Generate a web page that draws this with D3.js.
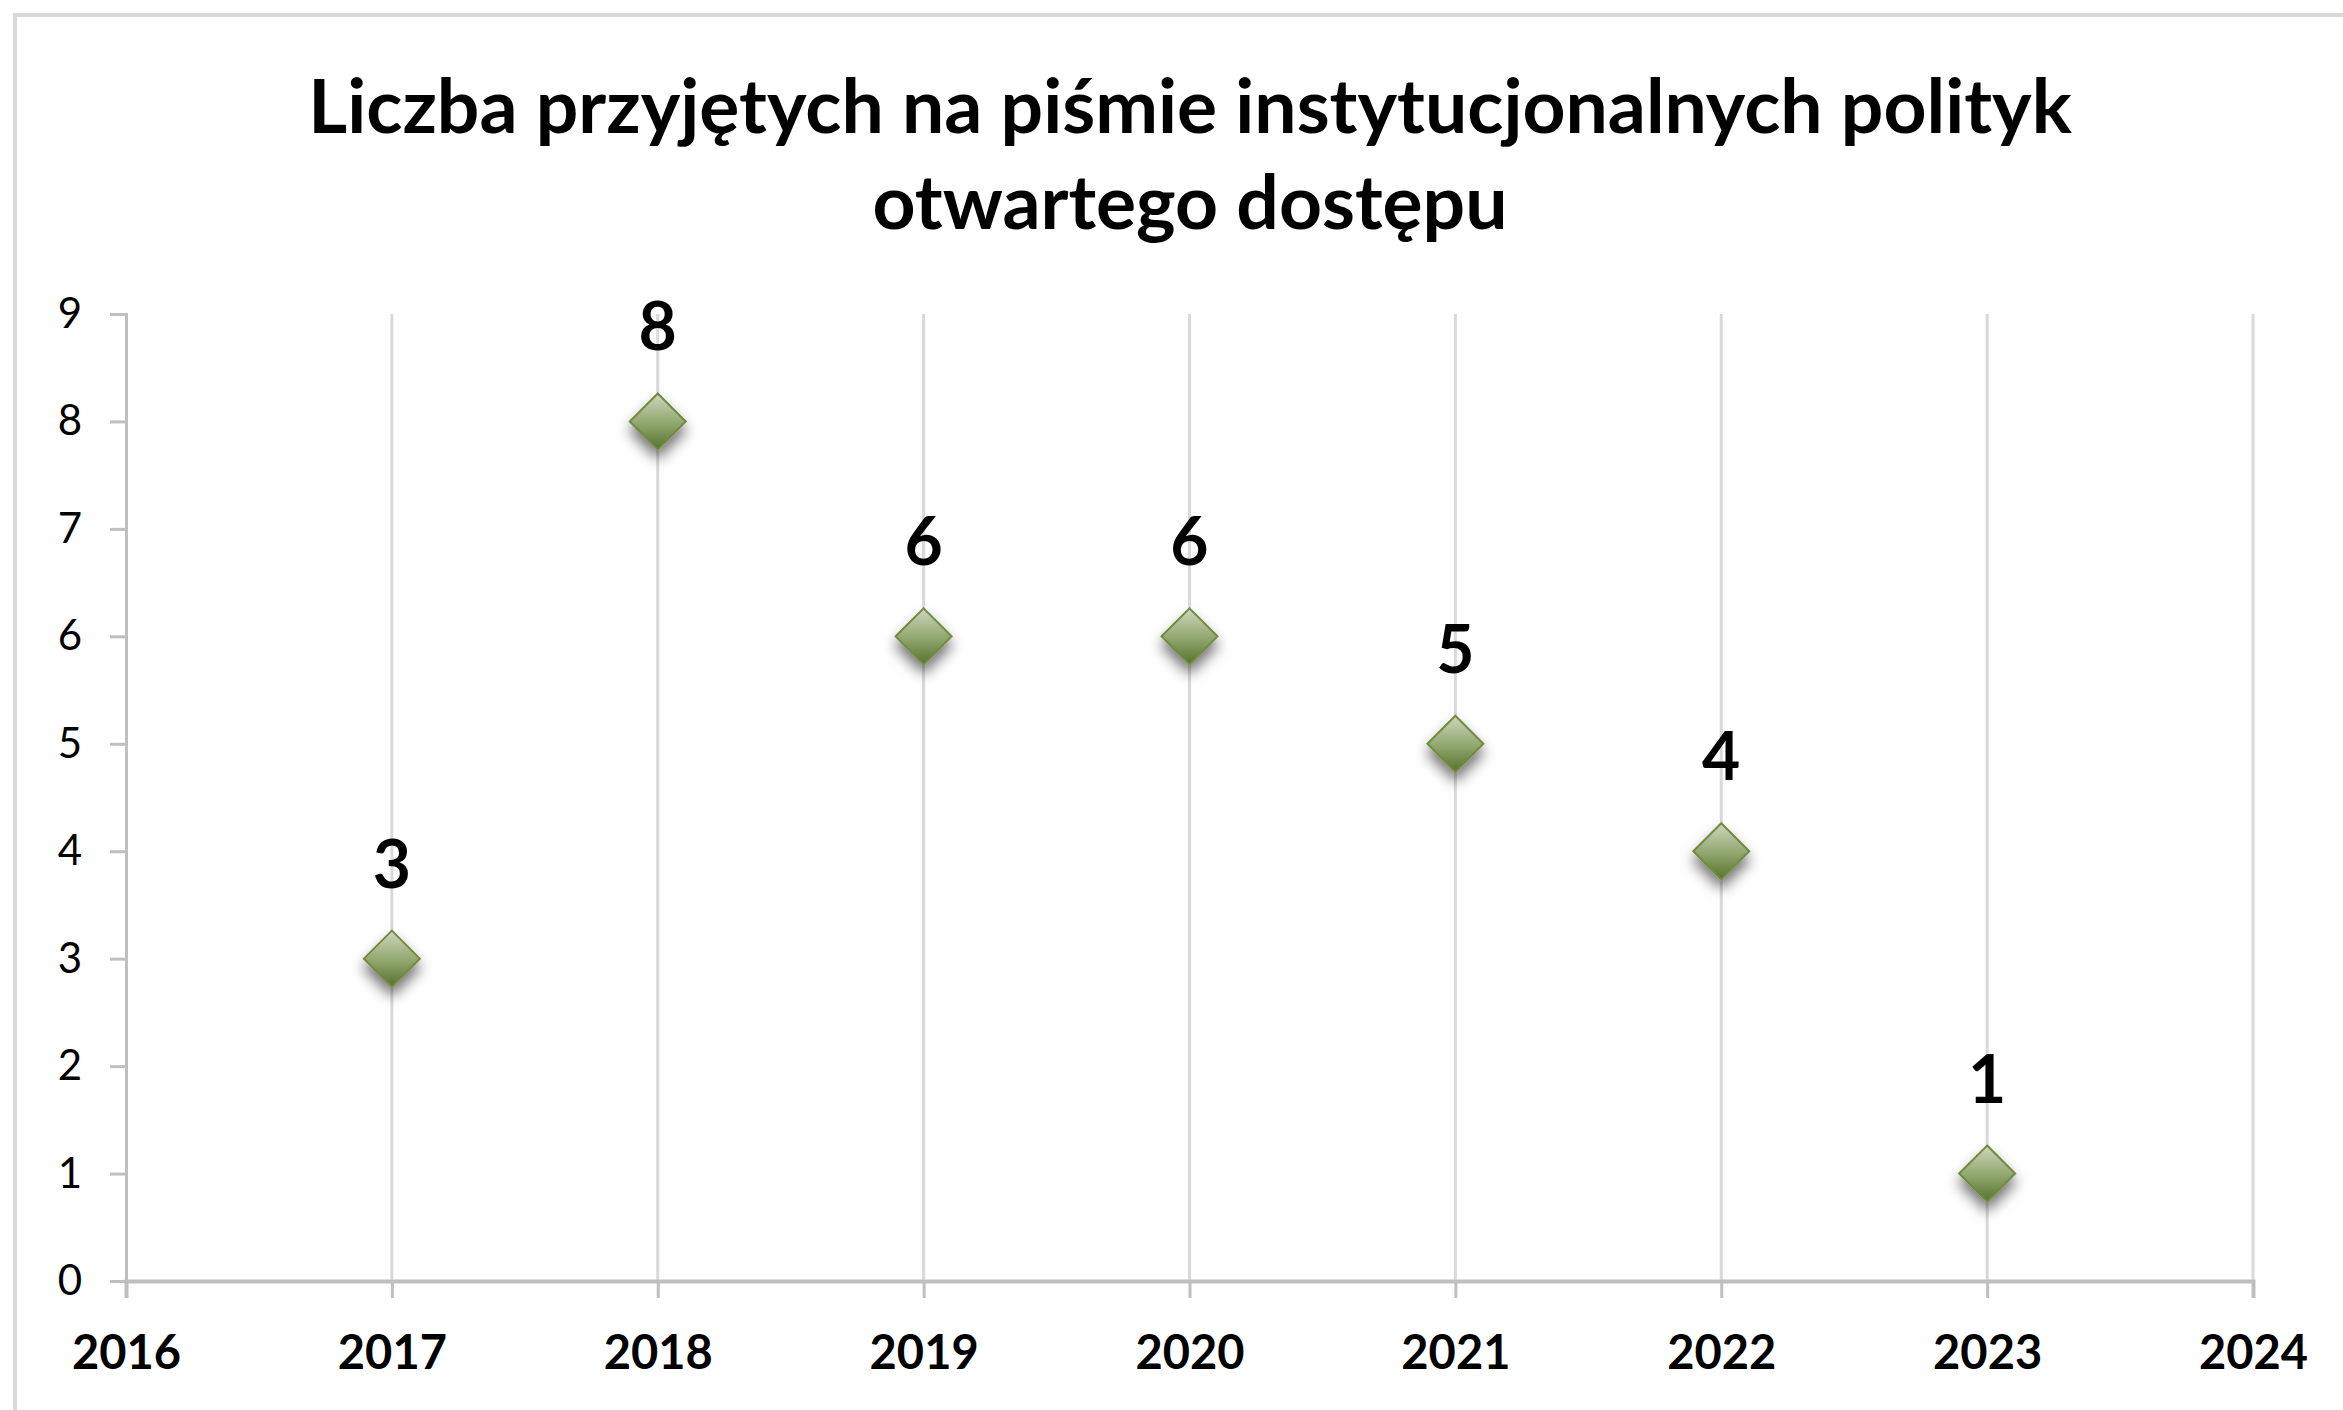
<!DOCTYPE html>
<html>
<head>
<meta charset="utf-8">
<script src="https://cdn.jsdelivr.net/npm/d3@7"></script>
<style>
  body { margin: 0; background: #fff; }
  text { font-family: Lato, "Open Sans", sans-serif; }
</style>
</head>
<body>
<div id="chart"></div>
<script>
// data
let years = [2017, 2018, 2019, 2020, 2021, 2022, 2023];
let counts = [3, 8, 6, 6, 5, 4, 1];
let xTicks = [2016, 2017, 2018, 2019, 2020, 2021, 2022, 2023, 2024];
let yTicks = [0, 1, 2, 3, 4, 5, 6, 7, 8, 9];
let titleLines = [
  "Liczba przyjętych na piśmie instytucjonalnych polityk",
  "otwartego dostępu",
];

let width = 2343,
  height = 1410;

let svg = d3
  .select("#chart")
  .append("svg")
  .attr("width", width)
  .attr("height", height);

let defs = svg.append("defs");

let grad = defs
  .append("linearGradient")
  .attr("id", "markerFill")
  .attr("x1", 0)
  .attr("y1", 0)
  .attr("x2", 0)
  .attr("y2", 1);
grad.append("stop").attr("offset", "0%").attr("stop-color", "#cdd7bd");
grad.append("stop").attr("offset", "55%").attr("stop-color", "#8fa56c");
grad.append("stop").attr("offset", "100%").attr("stop-color", "#56722e");

let shadow = defs.append("filter").attr("id", "shadow")
  .attr("x", "-60%").attr("y", "-60%").attr("width", "220%").attr("height", "220%");
shadow
  .append("feDropShadow")
  .attr("dx", 0)
  .attr("dy", 9)
  .attr("stdDeviation", 7)
  .attr("flood-color", "#000")
  .attr("flood-opacity", 0.55);

// outer frame (top and left edges visible)
svg.append("line")
  .attr("x1", 13).attr("y1", 15).attr("x2", width).attr("y2", 15)
  .attr("stroke", "#d9d9d9").attr("stroke-width", 4);
svg.append("line")
  .attr("x1", 15).attr("y1", 13).attr("x2", 15).attr("y2", height)
  .attr("stroke", "#d9d9d9").attr("stroke-width", 4);

// title
svg
  .selectAll(".title")
  .data(titleLines)
  .enter()
  .append("text")
  .attr("class", "title")
  .attr("x", 1190)
  .attr("y", (d, i) => 133 + i * 96)
  .attr("text-anchor", "middle")
  .attr("font-size", 75)
  .attr("font-weight", "bold")
  .attr("fill", "#000")
  .text((d) => d);

let x = d3.scaleLinear().domain([2016, 2024]).range([126, 2253]);
let y = d3.scaleLinear().domain([0, 9]).range([1281, 314]);

// vertical gridlines
svg
  .selectAll(".grid")
  .data(xTicks.slice(1))
  .enter()
  .append("line")
  .attr("x1", (d) => x(d))
  .attr("x2", (d) => x(d))
  .attr("y1", y(9))
  .attr("y2", y(0))
  .attr("stroke", "#d9d9d9")
  .attr("stroke-width", 3);

// y axis
let yAxis = svg
  .append("g")
  .attr("transform", "translate(" + x(2016) + ",0)")
  .call(d3.axisLeft(y).tickValues(yTicks).tickSize(16).tickPadding(28));
yAxis.select(".domain").attr("stroke", "#bfbfbf").attr("stroke-width", 3);
yAxis.selectAll(".tick line").attr("stroke", "#bfbfbf").attr("stroke-width", 3);
yAxis
  .selectAll(".tick text")
  .attr("font-family", "Lato, sans-serif")
  .attr("font-size", 42)
  .attr("fill", "#000");

// x axis
let xAxis = svg
  .append("g")
  .attr("transform", "translate(0," + y(0) + ")")
  .call(
    d3.axisBottom(x).tickValues(xTicks).tickFormat(d3.format("d")).tickSize(17).tickPadding(38)
  );
xAxis.select(".domain").attr("stroke", "#bfbfbf").attr("stroke-width", 4);
xAxis.selectAll(".tick line").attr("stroke", "#bfbfbf").attr("stroke-width", 3);
xAxis
  .selectAll(".tick text")
  .attr("font-family", "Lato, sans-serif")
  .attr("font-size", 47)
  .attr("font-weight", "bold")
  .attr("fill", "#000");

// markers
let half = 28;
let diamond = `M0,${-half}L${half},0L0,${half}L${-half},0Z`;
svg
  .selectAll(".pt")
  .data(years)
  .enter()
  .append("path")
  .attr("class", "pt")
  .attr("d", diamond)
  .attr("transform", (d, i) => "translate(" + x(d) + "," + y(counts[i]) + ")")
  .attr("fill", "url(#markerFill)")
  .attr("stroke", "#6f8b3f")
  .attr("stroke-width", 2)
  .attr("filter", "url(#shadow)");

// value labels
svg
  .selectAll(".lbl")
  .data(years)
  .enter()
  .append("text")
  .attr("class", "lbl")
  .attr("x", (d) => x(d))
  .attr("y", (d, i) => y(counts[i]) - 71)
  .attr("text-anchor", "middle")
  .attr("font-size", 66)
  .attr("font-weight", "bold")
  .attr("fill", "#000")
  .text((d, i) => counts[i]);
</script>
</body>
</html>
